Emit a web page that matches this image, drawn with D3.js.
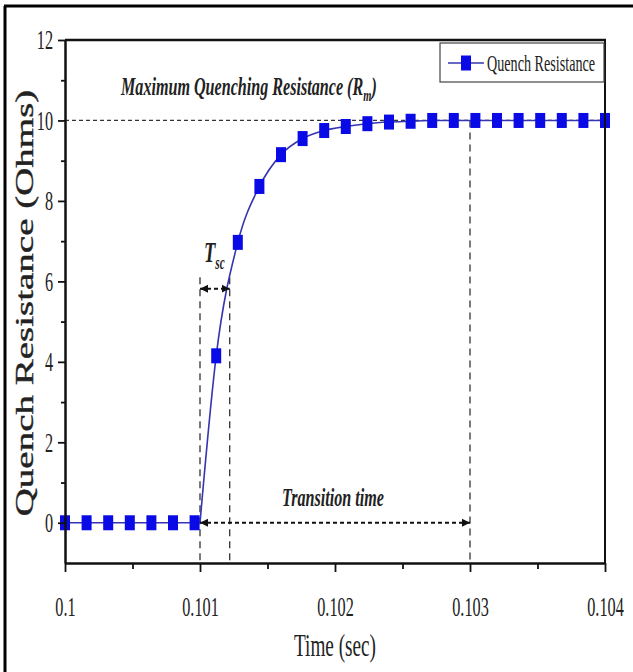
<!DOCTYPE html>
<html lang="en">
<head>
<meta charset="UTF-8">
<title>Quench Resistance</title>
<script src="https://cdn.jsdelivr.net/npm/d3@7"></script>
<style>
    body { margin: 0; background: #fff; }
    svg text { font-family: "Liberation Serif", "Times New Roman", serif; fill: #222; }
</style>
</head>
<body>
<svg id="chart" width="633" height="672"></svg>
<script>
    // sample times (sec) and resistance (ohms)
    const times = [0.1, 0.10016, 0.10032, 0.10048, 0.10064, 0.1008, 0.10096, 0.10112, 0.10128,
        0.10144, 0.1016, 0.10176, 0.10192, 0.10208, 0.10224, 0.1024, 0.10256, 0.10272,
        0.10288, 0.10304, 0.1032, 0.10336, 0.10352, 0.10368, 0.10384, 0.104];
    const resistance = [0, 0, 0, 0, 0, 0, 0, 4.15, 6.97, 8.36, 9.15, 9.55, 9.75, 9.85, 9.92,
        9.96, 9.98, 10, 10, 10, 10, 10, 10, 10, 10, 10];
    // quench onset, where the curve leaves zero
    const onset = { t: 0.101, r: 0 };

    const xTicks = [0.1, 0.101, 0.102, 0.103, 0.104];
    const xTickLabels = ["0.1", "0.101", "0.102", "0.103", "0.104"];
    const xMinor = [0.1005, 0.1015, 0.1025, 0.1035];
    const yTicks = [0, 2, 4, 6, 8, 10, 12];
    const yMinor = [1, 3, 5, 7, 9, 11];

    // annotation values
    const rMax = 10;
    const tscEnd = 0.10122, tscLevel = 5.82, tscTop = 6.1;
    const transitionEnd = 0.103;

    const SX = 0.62; // the original picture is squeezed sideways
    const svg = d3.select("#chart");
    const pLeft = 65, pRight = 605, pTop = 40, pBottom = 563;

    const x = d3.scaleLinear().domain([0.1, 0.104]).range([pLeft, pRight]);
    const y = d3.scaleLinear().domain([-1, 12]).range([pBottom, pTop]);

    function squeezed(parent, px, py, str, size, anchor, sx) {
        return parent.append("text")
            .attr("transform", "translate(" + px + "," + py + ") scale(" + (sx || SX) + ",1)")
            .attr("text-anchor", anchor || "start")
            .attr("font-size", size)
            .text(str);
    }

    // outer frame of the figure
    svg.append("line").attr("x1", 4).attr("x2", 633).attr("y1", 6).attr("y2", 6)
        .attr("stroke", "#000").attr("stroke-width", 3);
    svg.append("line").attr("x1", 5).attr("x2", 5).attr("y1", 6).attr("y2", 672)
        .attr("stroke", "#000").attr("stroke-width", 3);

    svg.append("defs").selectAll("marker")
        .data(["head"])
        .enter().append("marker")
        .attr("id", "head")
        .attr("viewBox", "0 0 10 10")
        .attr("refX", 10).attr("refY", 5)
        .attr("markerWidth", 8).attr("markerHeight", 12)
        .attr("markerUnits", "userSpaceOnUse")
        .attr("orient", "auto-start-reverse")
        .append("path").attr("d", "M0,0 L10,5 L0,10 Z").attr("fill", "#111");

    // dashed guides
    const guides = svg.append("g").attr("stroke", "#333").attr("stroke-width", 1.3);
    guides.append("line")
        .attr("x1", x(0.1)).attr("x2", x(0.104)).attr("y1", y(rMax)).attr("y2", y(rMax))
        .attr("stroke-dasharray", "4,3");
    [[onset.t, tscTop], [tscEnd, tscTop], [transitionEnd, rMax]].forEach(function (d) {
        guides.append("line")
            .attr("x1", x(d[0])).attr("x2", x(d[0]))
            .attr("y1", y(d[1])).attr("y2", y(-1))
            .attr("stroke-dasharray", "7,5");
    });

    // curve: flat part up to the onset, then the rise
    const pts = times.map(function (t, i) { return { t: t, r: resistance[i] }; });
    const flat = pts.slice(0, 7).concat([onset]);
    const rise = [onset].concat(pts.slice(7));
    const line = d3.line().x(function (d) { return x(d.t); }).y(function (d) { return y(d.r); });
    svg.append("path").datum(flat)
        .attr("fill", "none").attr("stroke", "#3535b0").attr("stroke-width", 1.6)
        .attr("d", line);
    svg.append("path").datum(rise)
        .attr("fill", "none").attr("stroke", "#3535b0").attr("stroke-width", 1.6)
        .attr("d", line.curve(d3.curveMonotoneX));

    const mw = 10, mh = 15;
    svg.append("g").selectAll("rect")
        .data(pts)
        .enter().append("rect")
        .attr("x", function (d) { return x(d.t) - mw / 2; })
        .attr("y", function (d) { return y(d.r) - mh / 2; })
        .attr("width", mw).attr("height", mh)
        .attr("fill", "#0a0ae6");

    // arrows
    const arrows = svg.append("g").attr("stroke", "#111").attr("stroke-width", 2)
        .attr("stroke-dasharray", "4,3").attr("fill", "none");
    arrows.append("line")
        .attr("x1", x(onset.t)).attr("x2", x(tscEnd)).attr("y1", y(tscLevel)).attr("y2", y(tscLevel))
        .attr("marker-start", "url(#head)").attr("marker-end", "url(#head)");
    arrows.append("line")
        .attr("x1", x(onset.t)).attr("x2", x(transitionEnd)).attr("y1", y(0)).attr("y2", y(0))
        .attr("marker-start", "url(#head)").attr("marker-end", "url(#head)");

    // axes
    const xAxis = svg.append("g").attr("transform", "translate(0," + pBottom + ")")
        .call(d3.axisBottom(x).tickValues(xTicks).tickSize(9).tickSizeOuter(0).tickPadding(24)
            .tickFormat(function (d, i) { return xTickLabels[i]; }));
    svg.append("g").attr("transform", "translate(0," + pBottom + ")")
        .call(d3.axisBottom(x).tickValues(xMinor).tickSize(6).tickFormat(""))
        .call(function (g) { g.select(".domain").remove(); });
    const yAxis = svg.append("g").attr("transform", "translate(" + pLeft + ",0)")
        .call(d3.axisLeft(y).tickValues(yTicks).tickSize(7).tickSizeOuter(0).tickPadding(5));
    svg.append("g").attr("transform", "translate(" + pLeft + ",0)")
        .call(d3.axisLeft(y).tickValues(yMinor).tickSize(4).tickFormat(""))
        .call(function (g) { g.select(".domain").remove(); });

    svg.selectAll(".tick line").attr("stroke", "#111").attr("stroke-width", 1.8);
    svg.selectAll(".domain").attr("stroke", "#111").attr("stroke-width", 2.5);
    xAxis.selectAll("text").attr("font-size", 28).attr("font-family", "Liberation Serif")
        .attr("fill", "#333").attr("transform", "scale(0.58,1)");
    yAxis.selectAll("text").attr("font-size", 28).attr("font-family", "Liberation Serif")
        .attr("fill", "#333").attr("x", -12 / 0.58).attr("transform", "scale(0.58,1)");

    // top and right frame of the plot
    svg.append("line").attr("x1", pLeft).attr("x2", pRight + 1).attr("y1", pTop).attr("y2", pTop)
        .attr("stroke", "#111").attr("stroke-width", 2.5);
    svg.append("line").attr("x1", pRight).attr("x2", pRight).attr("y1", pTop).attr("y2", pBottom)
        .attr("stroke", "#111").attr("stroke-width", 2);

    // axis titles
    squeezed(svg, 335, 656, "Time (sec)", 31, "middle").attr("fill", "#333");
    svg.append("text")
        .attr("transform", "translate(25,303) scale(" + SX + ",1) rotate(-90)")
        .attr("text-anchor", "middle").attr("dy", "0.35em")
        .attr("font-size", 39).attr("fill", "#222")
        .attr("stroke", "#222").attr("stroke-width", 0.6)
        .text("Quench Resistance (Ohms)");

    // annotations
    const rm = squeezed(svg, 121, 95, "", 26).attr("font-style", "italic")
        .attr("font-weight", "bold").attr("fill", "#111");
    rm.append("tspan").text("Maximum Quenching Resistance (R");
    rm.append("tspan").attr("font-size", 17).attr("dy", 6).text("m");
    rm.append("tspan").attr("dy", -6).text(")");

    const tsc = squeezed(svg, 204, 262, "", 30).attr("font-style", "italic")
        .attr("font-weight", "bold").attr("fill", "#111");
    tsc.append("tspan").text("T");
    tsc.append("tspan").attr("font-size", 18).attr("dy", 7).text("sc");

    squeezed(svg, 282, 506, "Transition time", 26).attr("font-style", "italic")
        .attr("font-weight", "bold").attr("fill", "#111");

    // legend
    const lg = svg.append("g");
    lg.append("rect").attr("x", 440).attr("y", 43).attr("width", 164).attr("height", 39)
        .attr("fill", "#fff").attr("stroke", "#444").attr("stroke-width", 1.2);
    lg.append("line").attr("x1", 448).attr("x2", 484).attr("y1", 63).attr("y2", 63)
        .attr("stroke", "#3535b0").attr("stroke-width", 1.6);
    lg.append("rect").attr("x", 466 - mw / 2).attr("y", 63 - mh / 2).attr("width", mw).attr("height", mh)
        .attr("fill", "#0a0ae6");
    squeezed(lg, 487, 63, "Quench Resistance", 24, "start", 0.59).attr("dy", "0.35em").attr("fill", "#333");
</script>
</body>
</html>
